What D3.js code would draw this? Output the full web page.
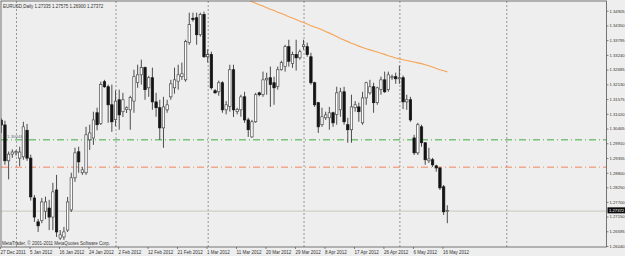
<!DOCTYPE html>
<html>
<head>
<meta charset="utf-8">
<script src="https://cdn.jsdelivr.net/npm/d3@7"></script>
<style>
  body { margin: 0; background: #eeeeee; }
  svg { display: block; }
  text { font-family: "Liberation Sans", Arial, sans-serif; }
</style>
</head>
<body>
<script>
// EURUSD daily bars (bar 0 = 27 Dec 2011)
var opens  = [1.3078,1.3060,1.2925,1.2950,1.2955,1.2935,1.2940,1.3040,1.2935,1.2785,1.2695,1.2700,1.2735,1.2747,1.2713,1.2815,1.2634,1.2638,1.2664,1.2740,1.2861,1.2959,1.2880,1.2880,1.3004,1.3011,1.3106,1.3065,1.3223,1.3204,1.3136,1.3080,1.3155,1.3110,1.3118,1.3117,1.3150,1.3220,1.3249,1.3276,1.3200,1.3238,1.3147,1.3125,1.3049,1.3117,1.3166,1.3200,1.3225,1.3242,1.3230,1.3370,1.3462,1.3464,1.3400,1.3476,1.3317,1.3325,1.3189,1.3185,1.3219,1.3117,1.3130,1.3268,1.3110,1.3117,1.3166,1.3079,1.3015,1.3072,1.3181,1.3174,1.3230,1.3238,1.3219,1.3205,1.3268,1.3280,1.3355,1.3292,1.3325,1.3313,1.3355,1.3355,1.3317,1.3219,1.3144,1.3061,1.3087,1.3087,1.3106,1.3100,1.3117,1.3185,1.3061,1.3042,1.3125,1.3128,1.3068,1.3162,1.3181,1.3204,1.3144,1.3193,1.3230,1.3193,1.3238,1.3242,1.3234,1.3238,1.3147,1.3155,1.3011,1.2955,1.3053,1.2993,1.2925,1.2929,1.2906,1.2898,1.2827,1.27335];
var highs  = [1.3085,1.3076,1.2960,1.2968,1.2965,1.2978,1.3072,1.3064,1.2948,1.2796,1.2706,1.2785,1.2790,1.2778,1.2842,1.2872,1.2664,1.2676,1.2789,1.2880,1.2974,1.2978,1.2902,1.3053,1.3061,1.3110,1.3125,1.3223,1.3230,1.3212,1.3212,1.3190,1.3193,1.3181,1.3130,1.3170,1.3268,1.3287,1.3306,1.3280,1.3245,1.3276,1.3181,1.3155,1.3166,1.3155,1.3230,1.3276,1.3287,1.3295,1.3381,1.3483,1.3483,1.3483,1.3483,1.3487,1.3345,1.3336,1.3195,1.3227,1.3225,1.3150,1.3287,1.3287,1.3125,1.3174,1.3185,1.3087,1.3079,1.3181,1.3185,1.3261,1.3257,1.3280,1.3242,1.3280,1.3302,1.3362,1.3381,1.3336,1.3381,1.3344,1.3381,1.3370,1.3332,1.3223,1.3147,1.3125,1.3110,1.3128,1.3110,1.3204,1.3200,1.3204,1.3087,1.3174,1.3150,1.3144,1.3185,1.3223,1.3230,1.3219,1.3204,1.3242,1.3261,1.3261,1.3250,1.3257,1.3283,1.3246,1.3174,1.3166,1.3023,1.3068,1.3061,1.2995,1.2974,1.2936,1.2910,1.2902,1.2834,1.27575];
var lows   = [1.3030,1.2910,1.2855,1.2936,1.2945,1.2905,1.2929,1.2925,1.2775,1.2695,1.2657,1.2690,1.2705,1.2664,1.2664,1.2638,1.2627,1.2627,1.2657,1.2732,1.2846,1.2880,1.2872,1.2872,1.2966,1.2985,1.3040,1.3060,1.3200,1.3068,1.3034,1.3055,1.3042,1.3090,1.3105,1.3042,1.3106,1.3200,1.3212,1.3155,1.3166,1.3117,1.3091,1.3004,1.2974,1.3106,1.3155,1.3178,1.3193,1.3230,1.3223,1.3362,1.3449,1.3362,1.3393,1.3313,1.3295,1.3193,1.3178,1.3170,1.3106,1.3100,1.3110,1.3090,1.3100,1.3091,1.3068,1.3015,1.3012,1.3068,1.3168,1.3166,1.3174,1.3128,1.3136,1.3193,1.3265,1.3261,1.3280,1.3275,1.3265,1.3306,1.3344,1.3317,1.3212,1.3128,1.3030,1.3053,1.3079,1.3042,1.3053,1.3061,1.3091,1.3061,1.2993,1.2993,1.3110,1.3072,1.3061,1.3136,1.3174,1.3106,1.3136,1.3174,1.3181,1.3185,1.3230,1.3215,1.3215,1.3120,1.3117,1.3072,1.2947,1.2947,1.2978,1.2910,1.2917,1.2902,1.2884,1.2815,1.2721,1.26900];
var closes = [1.3060,1.2925,1.2950,1.2958,1.2960,1.2958,1.3053,1.2935,1.2789,1.2713,1.2680,1.2770,1.2770,1.2713,1.2808,1.2657,1.2646,1.2657,1.2770,1.2861,1.2955,1.2921,1.2891,1.3023,1.3030,1.3079,1.3061,1.3212,1.3204,1.3136,1.3072,1.3150,1.3098,1.3155,1.3125,1.3163,1.3242,1.3249,1.3276,1.3193,1.3238,1.3147,1.3125,1.3049,1.3128,1.3136,1.3215,1.3230,1.3249,1.3253,1.3374,1.3438,1.3457,1.3400,1.3476,1.3317,1.3325,1.3200,1.3181,1.3219,1.3117,1.3136,1.3268,1.3117,1.3118,1.3166,1.3079,1.3042,1.3072,1.3174,1.3174,1.3230,1.3236,1.3212,1.3200,1.3268,1.3295,1.3355,1.3300,1.3325,1.3313,1.3336,1.3362,1.3325,1.3219,1.3136,1.3053,1.3091,1.3098,1.3106,1.3068,1.3181,1.3185,1.3072,1.3042,1.3128,1.3136,1.3110,1.3162,1.3219,1.3204,1.3144,1.3200,1.3230,1.3185,1.3249,1.3242,1.3234,1.3238,1.3147,1.3155,1.3079,1.2955,1.3061,1.2993,1.2929,1.2932,1.2910,1.2898,1.2823,1.2733,1.27372];

// moving average, starts at bar 66
var maStart = 66;
var maValues = [1.3536,1.3530,1.3525,1.3519,1.3513,1.3508,1.3502,1.3496,1.3491,1.3485,1.3480,1.3474,1.3468,1.3463,1.3457,1.3451,1.3446,1.3440,1.3434,1.3429,1.3424,1.3419,1.3412,1.3406,1.3400,1.3393,1.3386,1.3380,1.3374,1.3368,1.3363,1.3357,1.3352,1.3347,1.3343,1.3339,1.3335,1.3330,1.3326,1.3321,1.3317,1.3312,1.3309,1.3306,1.3303,1.3300,1.3297,1.3294,1.3291,1.3287,1.3283,1.3278,1.3273,1.3268,1.3264,1.3260];

var dateBars   = [0,8,16,24,32,40,48,56,64,72,80,88,96,104,112,120];
var dateLabels = ["27 Dec 2011","5 Jan 2012","16 Jan 2012","24 Jan 2012","2 Feb 2012","12 Feb 2012","21 Feb 2012","1 Mar 2012","11 Mar 2012","20 Mar 2012","29 Mar 2012","8 Apr 2012","17 Apr 2012","26 Apr 2012","6 May 2012","16 May 2012"];
var priceTicks = [1.26040,1.26595,1.27150,1.27700,1.28250,1.28800,1.29355,1.29910,1.30465,1.31020,1.31575,1.32130,1.32685,1.33240,1.33795,1.34350,1.34905];
var monthBars  = [4,31,56,82,108,137];   // period separators
var greenLevel = 1.30040, orangeLevel = 1.29010;
var bid = 1.27372;
var header = "EURUSD,Daily  1.27335 1.27575 1.26900 1.27372";

var width = 625, height = 256;
var plotL = 1, plotT = 1, plotR = 606.5, plotB = 247;

var svg = d3.select("body").append("svg").attr("width", width).attr("height", height);
svg.append("rect").attr("width", width).attr("height", height).attr("fill", "#eeeeee");

var x = d3.scaleLinear().domain([0, 121]).range([1.25, 1.25 + 121 * 3.6865]);
var y = d3.scaleLinear().domain([1.26040, 1.34905]).range([246, 10.7]);

svg.append("clipPath").attr("id", "plot")
  .append("rect").attr("x", plotL).attr("y", plotT).attr("width", plotR - plotL).attr("height", plotB - plotT);
var g = svg.append("g").attr("clip-path", "url(#plot)");

// period separators
g.selectAll("line.sep").data(monthBars).enter().append("line")
  .attr("x1", d => x(d) + 0.5).attr("x2", d => x(d) + 0.5)
  .attr("y1", plotT).attr("y2", plotB)
  .attr("stroke", "#8c8c8c").attr("stroke-width", 0.9).attr("stroke-dasharray", "2,2");

// horizontal levels
g.append("line").attr("x1", plotL).attr("x2", plotR).attr("y1", y(greenLevel)).attr("y2", y(greenLevel))
  .attr("stroke", "#3fae3f").attr("stroke-width", 1).attr("stroke-dasharray", "7,3,1,3");
g.append("line").attr("x1", plotL).attr("x2", plotR).attr("y1", y(orangeLevel)).attr("y2", y(orangeLevel))
  .attr("stroke", "#f2845e").attr("stroke-width", 1).attr("stroke-dasharray", "7,3,1,3");
g.append("line").attr("x1", plotL).attr("x2", plotR).attr("y1", y(bid) + 0.5).attr("y2", y(bid) + 0.5)
  .attr("stroke", "#cfcfc6").attr("stroke-width", 1.2);
g.append("text").attr("x", 7).attr("y", y(greenLevel) - 1.6)
  .attr("font-size", 4.4).attr("fill", "#5f7486").text("1.300481");

// candles
var bars = d3.range(opens.length);
g.selectAll("line.wick").data(bars).enter().append("line")
  .attr("x1", i => x(i)).attr("x2", i => x(i))
  .attr("y1", i => y(highs[i])).attr("y2", i => y(lows[i]))
  .attr("stroke", "#3a3a3a").attr("stroke-width", 0.9);
g.selectAll("rect.body").data(bars).enter().append("rect")
  .attr("x", i => x(i) - 1.2).attr("width", 2.4)
  .attr("y", i => y(Math.max(opens[i], closes[i])))
  .attr("height", i => Math.max(0.8, Math.abs(y(opens[i]) - y(closes[i]))))
  .attr("fill", i => closes[i] >= opens[i] ? "#ffffff" : "#141414")
  .attr("stroke", i => closes[i] >= opens[i] ? "#4a4a4a" : "#141414")
  .attr("stroke-width", 0.7);

// moving average
var ma = d3.line().x((d, k) => x(maStart + k)).y(d => y(d));
g.append("path").datum(maValues).attr("d", ma)
  .attr("fill", "none").attr("stroke", "#f6a455").attr("stroke-width", 1.1);

// texts inside the chart
svg.append("text").attr("x", 3).attr("y", 7.6).attr("font-size", 4.5).attr("fill", "#333").text(header);
svg.append("text").attr("x", 2).attr("y", 245).attr("font-size", 4.5).attr("fill", "#333")
  .text("MetaTrader, \u00a9 2001-2011 MetaQuotes Software Corp.");

// frame
svg.append("rect").attr("x", plotL).attr("y", plotT).attr("width", plotR - plotL).attr("height", plotB - plotT)
  .attr("fill", "none").attr("stroke", "#555").attr("stroke-width", 0.8);

// price axis
var yAxis = d3.axisRight(y).tickValues(priceTicks).tickSize(2).tickPadding(1)
  .tickFormat(d3.format(".5f"));
var ya = svg.append("g").attr("transform", "translate(" + plotR + ",0)").call(yAxis);
ya.select(".domain").remove();
ya.selectAll("line").attr("stroke", "#555").attr("stroke-width", 0.7);
ya.selectAll("text").attr("font-size", 4.2).attr("fill", "#333").attr("font-family", "Liberation Sans, Arial, sans-serif");

// bid label on the price axis
svg.append("rect").attr("x", plotR + 1).attr("y", y(bid) - 3.3).attr("width", 18).attr("height", 6).attr("fill", "#0a0a0a");
svg.append("text").attr("x", plotR + 2.5).attr("y", y(bid) + 1.5).attr("font-size", 4.2).attr("fill", "#fff")
  .text(d3.format(".5f")(bid));

// date axis
var xAxis = d3.axisBottom(x).tickValues(dateBars).tickSize(2).tickPadding(0.5)
  .tickFormat((d, k) => dateLabels[k]);
var xa = svg.append("g").attr("transform", "translate(0," + plotB + ")").call(xAxis);
xa.select(".domain").remove();
xa.selectAll("line").attr("stroke", "#555").attr("stroke-width", 0.7).attr("transform", "translate(-1.2,0)");
xa.selectAll("text").attr("text-anchor", "start").attr("x", -1.2).attr("dy", "0.9em")
  .attr("font-size", 4.5).attr("fill", "#333").attr("font-family", "Liberation Sans, Arial, sans-serif");
</script>
</body>
</html>
